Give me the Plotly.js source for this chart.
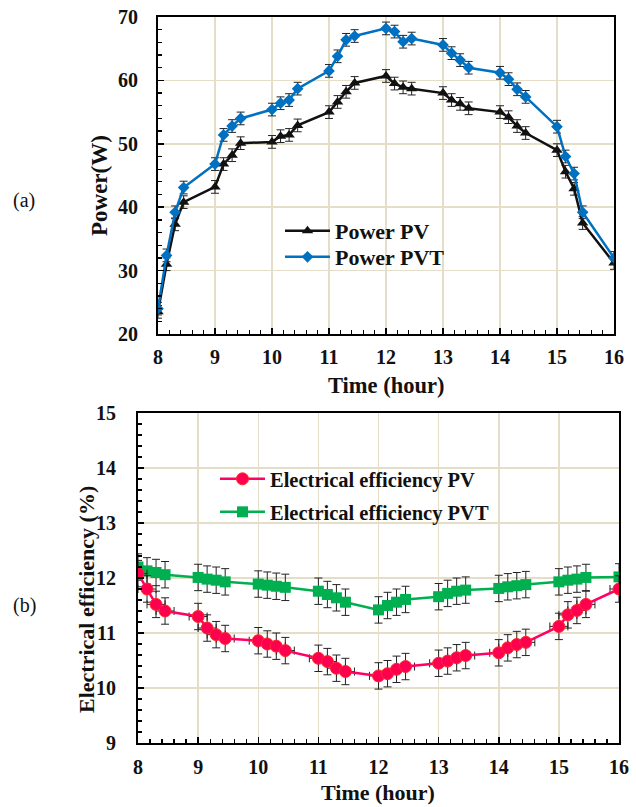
<!DOCTYPE html>
<html>
<head>
<meta charset="utf-8">
<script src="https://cdn.plot.ly/plotly-3.0.1.min.js"></script>
<style>html,body{margin:0;padding:0;background:#fff;}#chart{width:636px;height:807px;}</style>
</head>
<body>
<div id="chart"></div>
<script>
// Time points (hour)
const hours = [8,8.15,8.3,8.45, 9,9.15,9.3,9.45, 10,10.15,10.3,10.45, 11,11.15,11.3,11.45,
               12,12.15,12.3,12.45, 13,13.15,13.3,13.45, 14,14.15,14.3,14.45, 15,15.15,15.3,15.45, 16];

// (a) Power (W)
const powerPV = [23.5,31.0,37.3,40.8, 43.2,46.8,48.2,50.1, 50.3,51.2,51.4,52.9, 55.0,56.6,58.2,59.6,
                 60.7,59.5,58.9,58.7, 58.0,56.9,56.3,55.6, 55.0,54.2,52.8,51.7, 49.0,45.6,42.9,37.5, 31.2];
const powerPVT = [24.0,32.4,39.2,43.1, 46.8,51.4,52.8,54.0, 55.4,56.4,56.9,58.7, 61.5,63.8,66.4,67.0,
                  68.2,67.7,66.1,66.6, 65.6,64.3,63.2,62.0, 61.2,60.2,58.6,57.4, 52.7,48.0,45.3,39.2, 32.0];
const powerErr = 1.0;

// (b) Electrical efficiency (%)
const effPV = [12.08,11.80,11.52,11.40, 11.30,11.09,10.97,10.90, 10.86,10.80,10.76,10.68, 10.54,10.48,10.36,10.30,
               10.22,10.26,10.34,10.39, 10.45,10.49,10.55,10.59, 10.64,10.73,10.79,10.83, 11.12,11.33,11.41,11.52, 11.80];
const effPVT = [12.20,12.13,12.10,12.06, 12.01,11.98,11.96,11.93, 11.89,11.87,11.85,11.83, 11.76,11.70,11.64,11.56,
                11.42,11.50,11.56,11.61, 11.66,11.72,11.76,11.78, 11.81,11.84,11.86,11.88, 11.93,11.96,11.98,12.01, 12.02];
const effErr = 0.24;
const timeErr = 0.15;

const seriesNames = ['Power PV','Power PVT','Electrical efficiency PV','Electrical efficiency PVT'];
const xTitle = 'Time (hour)';
const yTitleA = 'Power(W)';
const yTitleB = 'Electrical efficiency (%)';

const FONT = 'Liberation Serif';
const grid = 'rgb(228,222,200)';
const W = 636, H = 807;

const traces = [
  {x: hours, y: powerPV, name: seriesNames[0], xaxis:'x', yaxis:'y', mode:'lines+markers',
   line:{color:'#111', width:2.5}, marker:{symbol:'triangle-up', size:10, color:'#111'},
   error_y:{type:'constant', value:powerErr, color:'#222', thickness:1, width:4}, legend:'legend'},
  {x: hours, y: powerPVT, name: seriesNames[1], xaxis:'x', yaxis:'y', mode:'lines+markers',
   line:{color:'rgb(0,112,192)', width:2.5}, marker:{symbol:'diamond', size:9, color:'rgb(0,112,192)'},
   error_y:{type:'constant', value:powerErr, color:'#222', thickness:1, width:4}, legend:'legend3'},
  {x: hours, y: effPVT, name: seriesNames[3], xaxis:'x2', yaxis:'y2', mode:'lines+markers',
   line:{color:'rgb(0,176,80)', width:2.5}, marker:{symbol:'square', size:11, color:'rgb(0,176,80)'},
   error_y:{type:'constant', value:effErr, color:'#222', thickness:1, width:4}, legend:'legend4'},
  {x: hours, y: effPV, name: seriesNames[2], xaxis:'x2', yaxis:'y2', mode:'lines+markers',
   line:{color:'rgb(255,0,100)', width:2.5}, marker:{symbol:'circle', size:12, color:'rgb(255,0,80)', line:{color:'rgb(255,40,40)', width:1}},
   error_y:{type:'constant', value:effErr, color:'#222', thickness:1, width:4},
   error_x:{type:'constant', value:timeErr, color:'#222', thickness:1, width:4}, legend:'legend2'}
];

function axisBase(extra){
  return Object.assign({
    showgrid:true, gridcolor:grid, gridwidth:1.5, zeroline:false,
    showline:true, linecolor:'#000', linewidth:2, mirror:true,
    ticks:'inside', ticklen:6, tickwidth:1.5, tickcolor:'#000',
    tickfont:{family:FONT, size:20, color:'#111', weight:'bold'}
  }, extra);
}

function legendAt(px, py, size){
  return {x:px/W, y:1-py/H, xanchor:'left', yanchor:'top', bgcolor:'rgba(0,0,0,0)',
          font:{family:FONT, size:size, color:'#111', weight:'bold'}, itemwidth:45};
}

const layout = {
  width:W, height:H, margin:{l:0,r:0,t:0,b:0},
  paper_bgcolor:'#fff', plot_bgcolor:'#fff', showlegend:true,
  font:{family:FONT},
  xaxis: axisBase({domain:[158/W, 614/W], anchor:'y', range:[8,16], dtick:1, ticklabelstandoff:4,
          minor:{dtick:0.2, ticks:'inside', ticklen:4, tickwidth:1.3, tickcolor:'#000', showgrid:false}}),
  yaxis: axisBase({domain:[1-334/H, 1-17/H], anchor:'x', range:[20,70], dtick:10, ticklabelstandoff:14,
          minor:{dtick:2, ticks:'inside', ticklen:4, tickwidth:1.3, tickcolor:'#000', showgrid:false}}),
  xaxis2: axisBase({domain:[138/W, 619/W], anchor:'y2', range:[8,16], dtick:1, ticklabelstandoff:5,
          minor:{dtick:0.2, ticks:'inside', ticklen:4, tickwidth:1.3, tickcolor:'#000', showgrid:false}}),
  yaxis2: axisBase({domain:[1-743/H, 1-413/H], anchor:'x2', range:[9,15], dtick:1, ticklabelstandoff:16,
          minor:{dtick:0.2, ticks:'inside', ticklen:4, tickwidth:1.3, tickcolor:'#000', showgrid:false}}),
  legend:  legendAt(280, 210, 22),
  legend3: legendAt(280, 236, 22),
  legend2: legendAt(215, 459, 20.5),
  legend4: legendAt(215, 492, 20.5),
  annotations:[
    {text:'(a)', x:24/W, y:1-200/H, xref:'paper', yref:'paper', xanchor:'center', yanchor:'middle', showarrow:false,
     font:{family:FONT, size:20, color:'#111'}},
    {text:'(b)', x:24/W, y:1-605/H, xref:'paper', yref:'paper', xanchor:'center', yanchor:'middle', showarrow:false,
     font:{family:FONT, size:20, color:'#111'}},
    {text:yTitleA, x:100/W, y:1-186/H, xref:'paper', yref:'paper', xanchor:'center', yanchor:'middle', showarrow:false, textangle:-90,
     font:{family:FONT, size:23, color:'#111', weight:'bold'}},
    {text:xTitle, x:386/W, y:1-385/H, xref:'paper', yref:'paper', xanchor:'center', yanchor:'middle', showarrow:false,
     font:{family:FONT, size:22.5, color:'#111', weight:'bold'}},
    {text:yTitleB, x:86/W, y:1-600/H, xref:'paper', yref:'paper', xanchor:'center', yanchor:'middle', showarrow:false, textangle:-90,
     font:{family:FONT, size:22, color:'#111', weight:'bold'}},
    {text:xTitle, x:378/W, y:1-792/H, xref:'paper', yref:'paper', xanchor:'center', yanchor:'middle', showarrow:false,
     font:{family:FONT, size:22, color:'#111', weight:'bold'}}
  ]
};

Plotly.newPlot('chart', traces, layout, {staticPlot:true, displayModeBar:false});
</script>
</body>
</html>
